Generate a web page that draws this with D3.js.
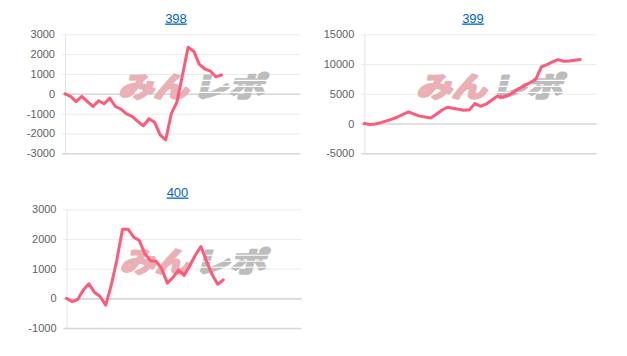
<!DOCTYPE html>
<html>
<head>
<meta charset="utf-8">
<script src="https://cdn.jsdelivr.net/npm/d3@7"></script>
<style>
  body { margin: 0; background: #fff; }
  svg { display: block; }
  .tick text { font-family: "Liberation Sans", Arial, sans-serif; font-size: 11px; fill: #626262; }
  .title { font-family: "Liberation Sans", Arial, sans-serif; font-size: 13px; fill: #0066cc; text-decoration: underline; }
</style>
</head>
<body>
<script>
// values per machine number, one point per slot
var titles = ["398", "399", "400"];

var values398 = [0, -130, -390, -130, -390, -640, -350, -500, -220, -640,
                 -770, -1010, -1140, -1390, -1610, -1260, -1430, -2070, -2320, -1000,
                 -420, 950, 2350, 2150, 1480, 1250, 1140, 850, 950];

var values399 = [0, -160, -80, 150, 450, 750, 1100, 1550, 1960, 1600,
                 1250, 1100, 950, 1570, 2240, 2740, 2580, 2400, 2240, 2300,
                 3360, 2910, 3250, 3920, 4590, 4420, 4760, 5260, 5880, 6380,
                 6890, 7450, 9520, 9910, 10360, 10750, 10470, 10530, 10640, 10750];

var values400 = [0, -110, -40, 280, 490, 200, 60, -230, 450, 1300,
                 2330, 2330, 2060, 1950, 1500, 1270, 1250, 1000, 510, 700,
                 950, 770, 1100, 1450, 1745, 1250, 800, 475, 620];

var ticks398 = [-3000, -2000, -1000, 0, 1000, 2000, 3000];
var ticks399 = [-5000, 0, 5000, 10000, 15000];
var ticks400 = [-1000, 0, 1000, 2000, 3000];

var slotCount = 43;

var w = 627, h = 356;
var svg = d3.select("body").append("svg")
            .attr("width", w)
            .attr("height", h);

var panels = [
  { title: titles[0], values: values398, ticks: ticks398, left: 65, right: 300, top: 34.3, bottom: 153.3, titleX: 176, titleY: 22.5 },
  { title: titles[1], values: values399, ticks: ticks399, left: 364.3, right: 596.7, top: 34.3, bottom: 153.3, titleX: 473, titleY: 22.5 },
  { title: titles[2], values: values400, ticks: ticks400, left: 66.5, right: 301.7, top: 209.3, bottom: 328, titleX: 177.5, titleY: 196.5 }
];

panels.forEach(function (p) {
  var width = p.right - p.left;
  var height = p.bottom - p.top;

  var g = svg.append("g")
             .attr("transform", `translate(${p.left},${p.top})`);

  var x = d3.scaleLinear()
            .domain([0, slotCount - 1])
            .range([0, width]);

  var y = d3.scaleLinear()
            .domain(d3.extent(p.ticks))
            .range([height, 0]);

  // y axis with gridlines
  var axis = g.append("g")
              .attr("class", "y axis")
              .call(d3.axisLeft(y)
                      .tickValues(p.ticks)
                      .tickSizeInner(-width)
                      .tickSizeOuter(0)
                      .tickPadding(10)
                      .tickFormat(d => String(d)));

  axis.select(".domain").attr("stroke", "#e4e4e4");
  axis.selectAll(".tick line")
      .attr("x1", -3)
      .attr("stroke", d => (d === 0 || d === p.ticks[0]) ? "#d6d6d6" : "#ebebeb")
      .attr("stroke-width", d => (d === 0 || d === p.ticks[0]) ? 1.6 : 1);
  axis.selectAll(".tick text").attr("x", -10);

  // watermark
  var wm = g.append("g")
            .attr("transform", `translate(${width / 2 + 9 - 73},${height / 2 - 8 + 11}) skewX(-14)`);
  wm.append("text")
    .attr("x", 0)
    .attr("y", 0)
    .attr("textLength", 70)
    .attr("lengthAdjust", "spacingAndGlyphs")
    .attr("font-family", "Noto Sans CJK JP")
    .attr("font-weight", "bold")
    .attr("font-size", "28px")
    .attr("fill", "#eab0b5")
    .attr("stroke", "#eab0b5")
    .attr("stroke-width", 2.5)
    .attr("stroke-linejoin", "round")
    .text("みん");
  wm.append("text")
    .attr("x", 74)
    .attr("y", 0)
    .attr("textLength", 72)
    .attr("lengthAdjust", "spacingAndGlyphs")
    .attr("font-family", "Noto Sans CJK JP")
    .attr("font-weight", "bold")
    .attr("font-size", "28px")
    .attr("fill", "#bdbdbd")
    .attr("stroke", "#bdbdbd")
    .attr("stroke-width", 2.5)
    .attr("stroke-linejoin", "round")
    .text("レポ");
  // speed stripes over the grey part
  wm.selectAll("rect.stripe")
    .data([-17, -11, -5])
    .enter()
    .append("rect")
    .attr("class", "stripe")
    .attr("x", 72)
    .attr("y", d => d)
    .attr("width", 78)
    .attr("height", 1.2)
    .attr("fill", "#fff");

  // line
  var line = d3.line()
               .x((d, i) => x(i))
               .y(d => y(d));

  g.append("path")
   .datum(p.values)
   .attr("d", line)
   .attr("fill", "none")
   .attr("stroke", "#ff5a7a")
   .attr("stroke-width", 3)
   .attr("stroke-linejoin", "round")
   .attr("stroke-linecap", "round");

  svg.append("text")
     .attr("class", "title")
     .attr("x", p.titleX)
     .attr("y", p.titleY)
     .attr("text-anchor", "middle")
     .text(p.title);
});
</script>
</body>
</html>
